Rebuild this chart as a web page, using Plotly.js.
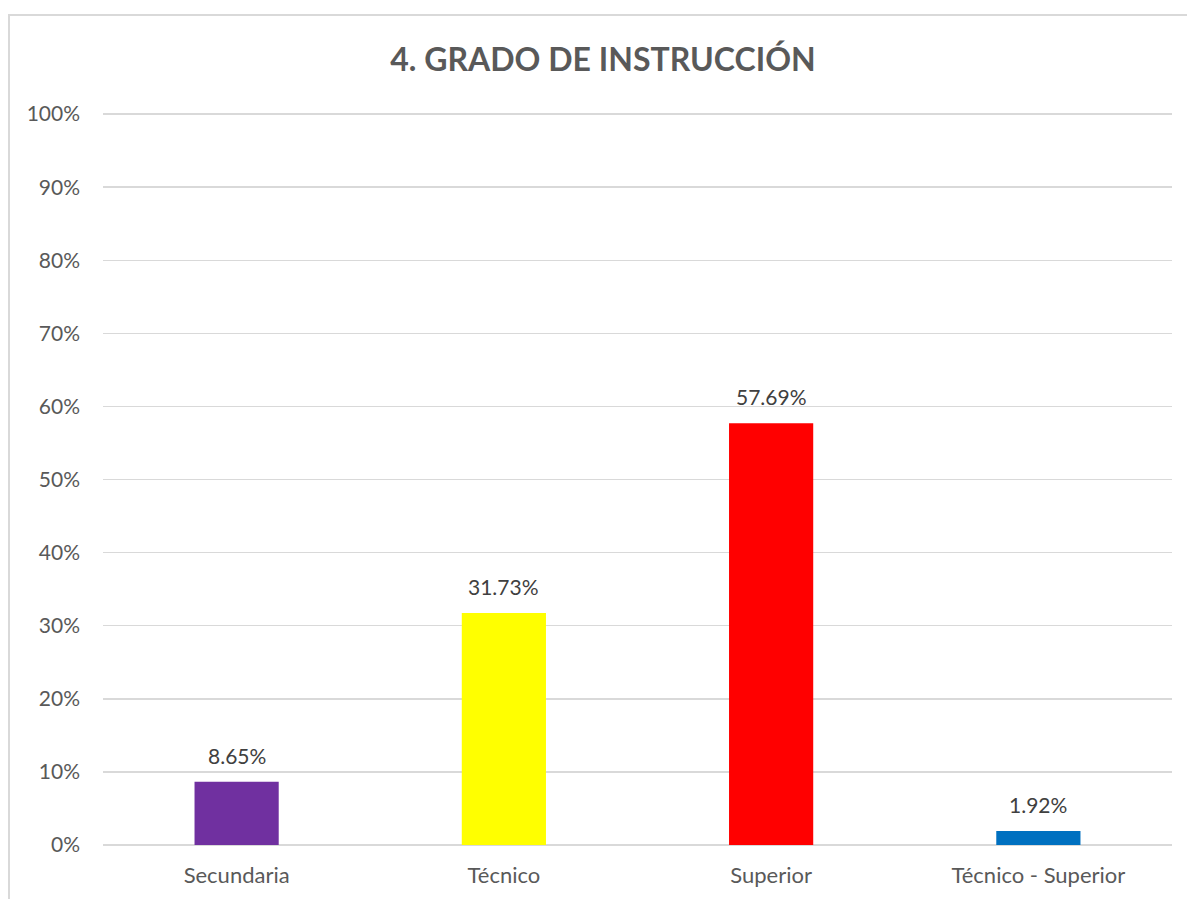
<!DOCTYPE html>
<html>
<head>
<meta charset="utf-8">
<script src="https://cdn.plot.ly/plotly-3.0.1.min.js"></script>
<style>
  html, body { margin: 0; padding: 0; background: #ffffff; overflow: hidden; }
  #frame { position: absolute; left: 8px; top: 14px; width: 1200px; height: 900px; border: 2px solid #D9D9D9; box-sizing: border-box; }
  #chart { position: absolute; left: 0; top: 0; width: 1187px; height: 899px; }
</style>
</head>
<body>
<div id="frame"></div>
<div id="chart"></div>
<script>
const categories = ["Secundaria", "Técnico", "Superior", "Técnico - Superior"];
const values = [0.0865, 0.3173, 0.5769, 0.0192];
const labels = ["8.65%", "31.73%", "57.69%", "1.92%"];
const colors = ["#7030A0", "#FFFF00", "#FF0000", "#0070C0"];
const tickVals = [0, 0.1, 0.2, 0.3, 0.4, 0.5, 0.6, 0.7, 0.8, 0.9, 1.0];
const tickText = ["0%", "10%", "20%", "30%", "40%", "50%", "60%", "70%", "80%", "90%", "100%"];

const fontFam = "Lato, 'Open Sans', 'Liberation Sans', sans-serif";

const trace = {
  type: "bar",
  x: categories,
  y: values,
  marker: { color: colors },
  width: 0.315,
  hoverinfo: "none"
};

const annotations = categories.map((c, i) => ({
  x: c, y: values[i], xref: "x", yref: "y",
  text: labels[i], showarrow: false,
  yanchor: "bottom", yshift: 12,
  font: { family: fontFam, size: 21, color: "#404040" }
}));

const layout = {
  width: 1187, height: 899,
  margin: { l: 103, r: 15, t: 113, b: 54 },
  paper_bgcolor: "rgba(0,0,0,0)",
  plot_bgcolor: "rgba(0,0,0,0)",
  showlegend: false,
  title: {
    text: "<b>4. GRADO DE INSTRUCCIÓN</b>",
    x: 0.508, xref: "container", xanchor: "center",
    y: 0.934, yref: "container", yanchor: "middle",
    font: { family: fontFam, size: 32, color: "#595959" }
  },
  xaxis: {
    type: "category",
    showgrid: false,
    showline: false,
    zeroline: false,
    ticks: "",
    tickfont: { family: fontFam, size: 22, color: "#595959" },
    ticklabelstandoff: 15
  },
  yaxis: {
    range: [0, 1.0015],
    tickvals: tickVals,
    ticktext: tickText,
    showgrid: true,
    gridcolor: "#D9D9D9",
    gridwidth: 1.5,
    zeroline: true,
    zerolinecolor: "#D9D9D9",
    zerolinewidth: 1.5,
    showline: false,
    ticks: "",
    tickfont: { family: fontFam, size: 21, color: "#595959" },
    ticklabelstandoff: 22
  },
  annotations: annotations
};

Plotly.newPlot("chart", [trace], layout, { displayModeBar: false, staticPlot: true });
</script>
</body>
</html>
